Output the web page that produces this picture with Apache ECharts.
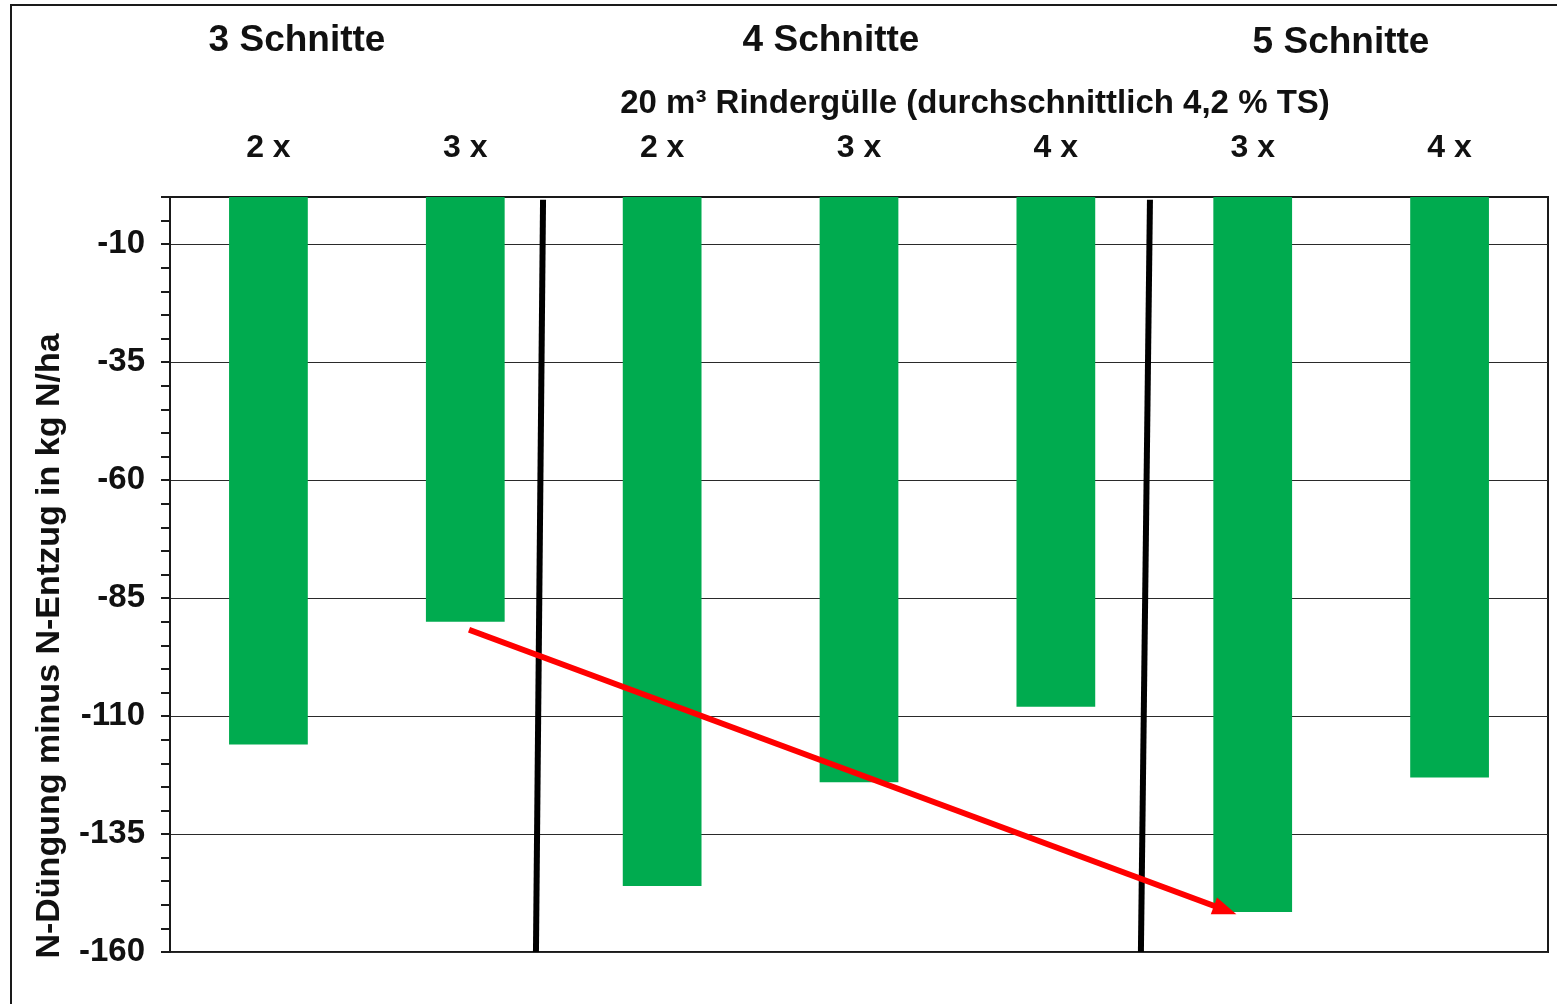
<!DOCTYPE html>
<html><head><meta charset="utf-8">
<script src="https://cdn.jsdelivr.net/npm/echarts@6/dist/echarts.min.js"></script>
<style>html,body{margin:0;padding:0;background:#fff;overflow:hidden}#c{width:1557px;height:1004px}</style>
</head><body><div id="c"></div>
<script>
const categories = ['2 x', '3 x', '2 x', '3 x', '4 x', '3 x', '4 x'];
const values = [-116, -90, -146, -124, -108, -151.5, -123];
const groupLabels = ['3 Schnitte', '4 Schnitte', '5 Schnitte'];
const subtitle = '20 m³ Rindergülle (durchschnittlich 4,2 % TS)';
const yTitle = 'N-Düngung minus N-Entzug in kg N/ha';
const separator1 = [[1.895, -0.6], [1.859, -160]];
const separator2 = [[4.978, -0.6], [4.932, -160]];
const arrowStart = [1.519, -91.7];
const arrowEnd = [5.36, -151.1];

const FONT = '"Liberation Sans", Arial, sans-serif';
const chart = echarts.init(document.getElementById('c'), null, {renderer: 'canvas'});
const groupPos = [[297, 41], [831, 41], [1341, 43]];

const option = {
  animation: false,
  backgroundColor: '#fff',
  textStyle: {fontFamily: FONT},
  grid: {left: 170, right: 9, top: 197, bottom: 52, show: true, borderColor: '#1a1a1a', borderWidth: 2, backgroundColor: 'transparent'},
  xAxis: [
    {
      type: 'category', data: categories, position: 'top',
      axisLine: {show: true, lineStyle: {color: '#1a1a1a', width: 2}},
      axisTick: {show: false},
      axisLabel: {color: '#111', fontSize: 32, fontWeight: 'bold', fontFamily: FONT, margin: 33},
      splitLine: {show: false}
    },
    {type: 'value', min: 0, max: 7, show: false, splitLine: {show: false}}
  ],
  yAxis: {
    type: 'value', min: -160, max: 0, interval: 25,
    axisLine: {show: true, lineStyle: {color: '#1a1a1a', width: 2}},
    axisTick: {show: true, length: 9, lineStyle: {color: '#1a1a1a', width: 2}},
    minorTick: {show: true, splitNumber: 5, length: 9, lineStyle: {color: '#1a1a1a', width: 2}},
    axisLabel: {color: '#111', fontSize: 33, fontWeight: 'bold', fontFamily: FONT, margin: 25, showMaxLabel: false},
    splitLine: {show: true, lineStyle: {color: '#2a2a2a', width: 1.2}}
  },
  series: [
    {
      type: 'bar', data: values, barWidth: '40%',
      itemStyle: {color: '#00ab4f'}, silent: true, z: 2
    },
    {
      type: 'line', xAxisIndex: 1, data: separator1, symbol: 'none', silent: true,
      lineStyle: {color: '#000', width: 6}, z: 3
    },
    {
      type: 'line', xAxisIndex: 1, data: separator2, symbol: 'none', silent: true,
      lineStyle: {color: '#000', width: 6}, z: 3
    },
    {
      type: 'line', xAxisIndex: 1, data: [], silent: true, z: 4,
      markLine: {
        silent: true, animation: false,
        symbol: ['none', 'triangle'], symbolSize: [18, 24],
        label: {show: false},
        lineStyle: {color: '#ff0000', width: 6, type: 'solid', opacity: 1},
        data: [[{coord: arrowStart}, {coord: arrowEnd}]]
      }
    }
  ],
  graphic: [
    {type: 'rect', shape: {x: 11, y: 5, width: 1600, height: 1100}, style: {fill: 'none', stroke: '#1a1a1a', lineWidth: 2}, silent: true},
    ...groupLabels.map((t, i) => ({
      type: 'text', x: groupPos[i][0], y: groupPos[i][1],
      style: {text: t, fill: '#111', font: 'bold 37px ' + FONT, align: 'center', verticalAlign: 'middle'}
    })),
    {type: 'text', x: 975, y: 104, style: {text: subtitle, fill: '#111', font: 'bold 33px ' + FONT, align: 'center', verticalAlign: 'middle'}},
    {type: 'text', x: 50, y: 646, rotation: Math.PI / 2,
     style: {text: yTitle, fill: '#111', font: 'bold 34px ' + FONT, align: 'center', verticalAlign: 'middle'}}
  ]
};
chart.setOption(option);
</script></body></html>
